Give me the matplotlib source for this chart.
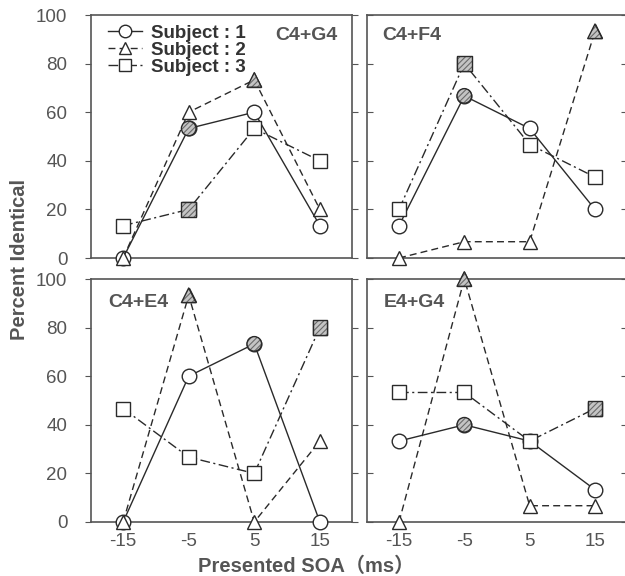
import matplotlib
matplotlib.use("Agg")
import matplotlib.pyplot as plt
from matplotlib.lines import Line2D

plt.rcParams['font.family'] = ['Liberation Sans', 'Noto Sans CJK JP', 'DejaVu Sans']
plt.rcParams['hatch.linewidth'] = 0.8

soa = [-15, -5, 5, 15]
xtick_labels = ['-15', '-5', '5', '15']
panels = ['C4+G4', 'C4+F4', 'C4+E4', 'E4+G4']
subjects = ['Subject : 1', 'Subject : 2', 'Subject : 3']

s1 = {'C4+G4': [0, 53.3, 60, 13.3], 'C4+F4': [13.3, 66.7, 53.3, 20],
      'C4+E4': [0, 60, 73.3, 0], 'E4+G4': [33.3, 40, 33.3, 13.3]}
s2 = {'C4+G4': [0, 60, 73.3, 20], 'C4+F4': [0, 6.7, 6.7, 93.3],
      'C4+E4': [0, 93.3, 0, 33.3], 'E4+G4': [0, 100, 6.7, 6.7]}
s3 = {'C4+G4': [13.3, 20, 53.3, 40], 'C4+F4': [20, 80, 46.7, 33.3],
      'C4+E4': [46.7, 26.7, 20, 80], 'E4+G4': [53.3, 53.3, 33.3, 46.7]}
# index of the shaded (hatched) point for each subject in each panel
shaded1 = {'C4+G4': 1, 'C4+F4': 1, 'C4+E4': 2, 'E4+G4': 1}
shaded2 = {'C4+G4': 2, 'C4+F4': 3, 'C4+E4': 1, 'E4+G4': 1}
shaded3 = {'C4+G4': 1, 'C4+F4': 1, 'C4+E4': 3, 'E4+G4': 3}

series = [(s1, shaded1, 'o', '-', 10.5),
          (s2, shaded2, '^', (0, (5, 3)), 10.5),
          (s3, shaded3, 's', (0, (7, 2.5, 1.5, 2.5)), 10.5)]

W, H = 625, 576
fig = plt.figure(figsize=(W / 100, H / 100), dpi=100)

grey = '#555555'
lc = '#2a2a2a'
boxes = [(91, 15, 352, 258), (367, 15, 627, 258),
         (91, 279, 352, 522), (367, 279, 627, 522)]
title_pos = [(0.945, 0.915, 'right'), (0.06, 0.915, 'left'),
             (0.065, 0.905, 'left'), (0.065, 0.905, 'left')]

axes = []
for i, (name, box) in enumerate(zip(panels, boxes)):
    x0, y0, x1, y1 = box
    ax = fig.add_axes([x0 / W, 1 - y1 / H, (x1 - x0) / W, (y1 - y0) / H])
    axes.append(ax)
    for data, shaded, mk, ls, ms in series:
        vals = data[name]
        ax.plot(soa, vals, color=lc, lw=1.0, ls=ls, marker=mk, ms=ms,
                mfc='white', mec=lc, mew=1.0, zorder=3, clip_on=False)
        k = shaded[name]
        ax.scatter([soa[k]], [vals[k]], marker=mk, s=ms ** 2, facecolor='#c4c4c4',
                   edgecolor='#6a6a6a', linewidths=0, hatch='//////', zorder=4,
                   clip_on=False)
        ax.scatter([soa[k]], [vals[k]], marker=mk, s=ms ** 2, facecolor='none',
                   edgecolor=lc, linewidths=1.0, zorder=5, clip_on=False)
    ax.set_xlim(-19.9, 19.9)
    ax.set_ylim(0, 100)
    ax.set_yticks([0, 20, 40, 60, 80, 100])
    ax.set_xticks(soa)
    for sp in ax.spines.values():
        sp.set_color(grey)
        sp.set_linewidth(1.2)
    col = i % 2
    row = i // 2
    ax.tick_params(axis='x', length=0, labelsize=13.5, labelcolor=grey, pad=8)
    ax.tick_params(axis='y', labelsize=13.5, labelcolor=grey, color=grey,
                   direction='out' if col == 0 else 'in', length=4,
                   left=True, right=False, pad=13)
    if col == 1:
        ax.tick_params(axis='y', right=True, direction='in')
        ax.set_yticklabels([])
    else:
        ax.tick_params(axis='y', right=True)
    if row == 0:
        ax.set_xticklabels([])
    else:
        ax.set_xticklabels(xtick_labels)
    tx, ty, ha = title_pos[i]
    ax.text(tx, ty, name, transform=ax.transAxes, ha=ha, va='center',
            fontsize=14, fontweight='bold', color=grey)

handles = [Line2D([0], [0], color=lc, lw=1.0, ls=ls, marker=mk, ms=9,
                  mfc='white', mec=lc) for _, _, mk, ls, _ in series]
axes[0].legend(handles, subjects, loc='upper left', bbox_to_anchor=(0.0, 1.03),
               frameon=False, handlelength=1.8, handletextpad=0.5,
               labelspacing=0.0, prop={'weight': 'bold', 'size': 13.5},
               labelcolor='#333333')

fig.text(0.032, 0.55, 'Percent Identical', rotation=90, ha='center', va='center',
         fontsize=14.5, fontweight='bold', color=grey)
fig.text(0.49, 0.017, 'Presented SOA（ms）', ha='center', va='center',
         fontsize=14.5, fontweight='bold', color=grey)

fig.savefig('out.png', dpi=100)
